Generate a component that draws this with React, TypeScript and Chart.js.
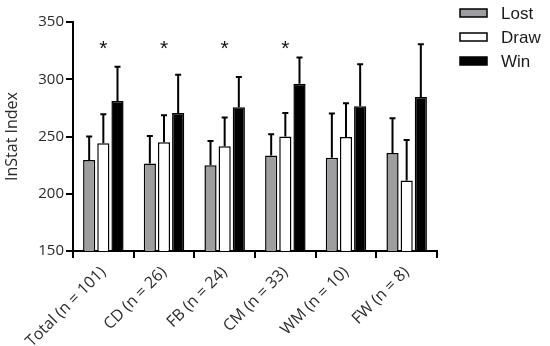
import React, { useEffect, useRef } from "react";
import { Chart, registerables } from "chart.js";

Chart.register(...registerables);

const categories = ["Total (n = 101)", "CD (n = 26)", "FB (n = 24)", "CM (n = 33)", "WM (n = 10)", "FW (n = 8)"];
const lostMean = [229.5, 226.5, 225, 233.5, 231.5, 235.5];
const lostSD = [20.5, 24, 21, 18.5, 38.5, 30.5];
const drawMean = [244, 245, 241.5, 250, 249.5, 211.5];
const drawSD = [25.5, 23.5, 25, 20.5, 29.5, 35.5];
const winMean = [281, 270.5, 275.5, 296, 276.5, 284.5];
const winSD = [30, 33.5, 26.5, 23, 36.5, 46];
const significant = [true, true, true, true, false, false];
const asteriskLevel = 332;
const yTicks = [150, 200, 250, 300, 350];

const errorBarPlugin = {
  id: "errorBars",
  afterDatasetsDraw(chart: any) {
    const ctx = chart.ctx;
    const y = chart.scales.y;
    ctx.save();
    ctx.strokeStyle = "#000";
    ctx.lineWidth = 2;
    chart.data.datasets.forEach((ds: any, di: number) => {
      const meta = chart.getDatasetMeta(di);
      meta.data.forEach((bar: any, i: number) => {
        const top = y.getPixelForValue(ds.data[i] + ds.sd[i]);
        ctx.beginPath();
        ctx.moveTo(bar.x, bar.y);
        ctx.lineTo(bar.x, top);
        ctx.moveTo(bar.x - 3, top);
        ctx.lineTo(bar.x + 3, top);
        ctx.stroke();
      });
    });
    const x = chart.scales.x;
    ctx.fillStyle = "#111";
    ctx.font = "21px 'Liberation Sans', Arial, sans-serif";
    ctx.textAlign = "center";
    ctx.textBaseline = "alphabetic";
    significant.forEach((s, i) => {
      if (!s) return;
      const px = x.getPixelForValue(i);
      const py = y.getPixelForValue(asteriskLevel) + 0.57 * 21;
      ctx.fillText("*", px, py);
    });
    ctx.restore();
  },
};

const legendPlugin = {
  id: "customLegend",
  afterDraw(chart: any) {
    const ctx = chart.ctx;
    ctx.save();
    const left = chart.width - 90;
    chart.data.datasets.forEach((ds: any, i: number) => {
      const cy = 13 + i * 24;
      ctx.fillStyle = ds.backgroundColor;
      ctx.fillRect(left, cy - 4, 27, 8);
      ctx.strokeStyle = "#000";
      ctx.lineWidth = 1.5;
      ctx.strokeRect(left, cy - 4, 27, 8);
      ctx.fillStyle = "#1a1a1a";
      ctx.font = "17px 'Liberation Sans', Arial, sans-serif";
      ctx.textAlign = "left";
      ctx.textBaseline = "middle";
      ctx.fillText(ds.label, left + 41, cy + 1);
    });
    ctx.restore();
  },
};

export default function App() {
  const ref = useRef<HTMLCanvasElement>(null);
  useEffect(() => {
    document.body.style.margin = "0";
    const chart = new Chart(ref.current!, {
      type: "bar",
      data: {
        labels: categories,
        datasets: [
          { label: "Lost", data: lostMean, sd: lostSD, backgroundColor: "#9e9ea0", borderColor: "#000", borderWidth: 1.5 } as any,
          { label: "Draw", data: drawMean, sd: drawSD, backgroundColor: "#ffffff", borderColor: "#000", borderWidth: 1.5 } as any,
          { label: "Win", data: winMean, sd: winSD, backgroundColor: "#000000", borderColor: "#000", borderWidth: 1.5 } as any,
        ],
      },
      options: {
        animation: false,
        responsive: true,
        maintainAspectRatio: false,
        layout: { padding: { left: 0, right: 113, top: 22, bottom: 0 } },
        plugins: { legend: { display: false }, tooltip: { enabled: false } },
        datasets: { bar: { categoryPercentage: 0.7, barPercentage: 0.86 } },
        scales: {
          x: {
            offset: true,
            afterFit(scale: any) { scale.height = 95; },
            grid: { display: true, drawOnChartArea: false, drawTicks: true, tickLength: 7, color: "#000", lineWidth: 2 },
            border: { display: true, color: "#000", width: 2 },
            ticks: {
              minRotation: 45, maxRotation: 45, autoSkip: false, padding: 5,
              color: "#2a2a2a", font: { family: "'Open Sans', sans-serif", size: 16 },
            },
          },
          y: {
            min: 150, max: 350,
            afterFit(scale: any) { scale.width = 73; },
            afterBuildTicks(scale: any) { scale.ticks = yTicks.map((v) => ({ value: v })); },
            grid: { display: true, drawOnChartArea: false, drawTicks: true, tickLength: 7, color: "#000", lineWidth: 2 },
            border: { display: true, color: "#000", width: 2 },
            ticks: { padding: 2, color: "#2a2a2a", font: { family: "'Open Sans', sans-serif", size: 15 } },
            title: { display: true, text: "InStat Index", color: "#2a2a2a", font: { family: "'Open Sans', sans-serif", size: 16 }, padding: { top: 3, bottom: 4 } },
          },
        },
      },
      plugins: [errorBarPlugin, legendPlugin],
    } as any);
    return () => chart.destroy();
  }, []);
  return (
    <div style={{ width: 550, height: 346, position: "relative" }}>
      <canvas ref={ref} />
    </div>
  );
}
